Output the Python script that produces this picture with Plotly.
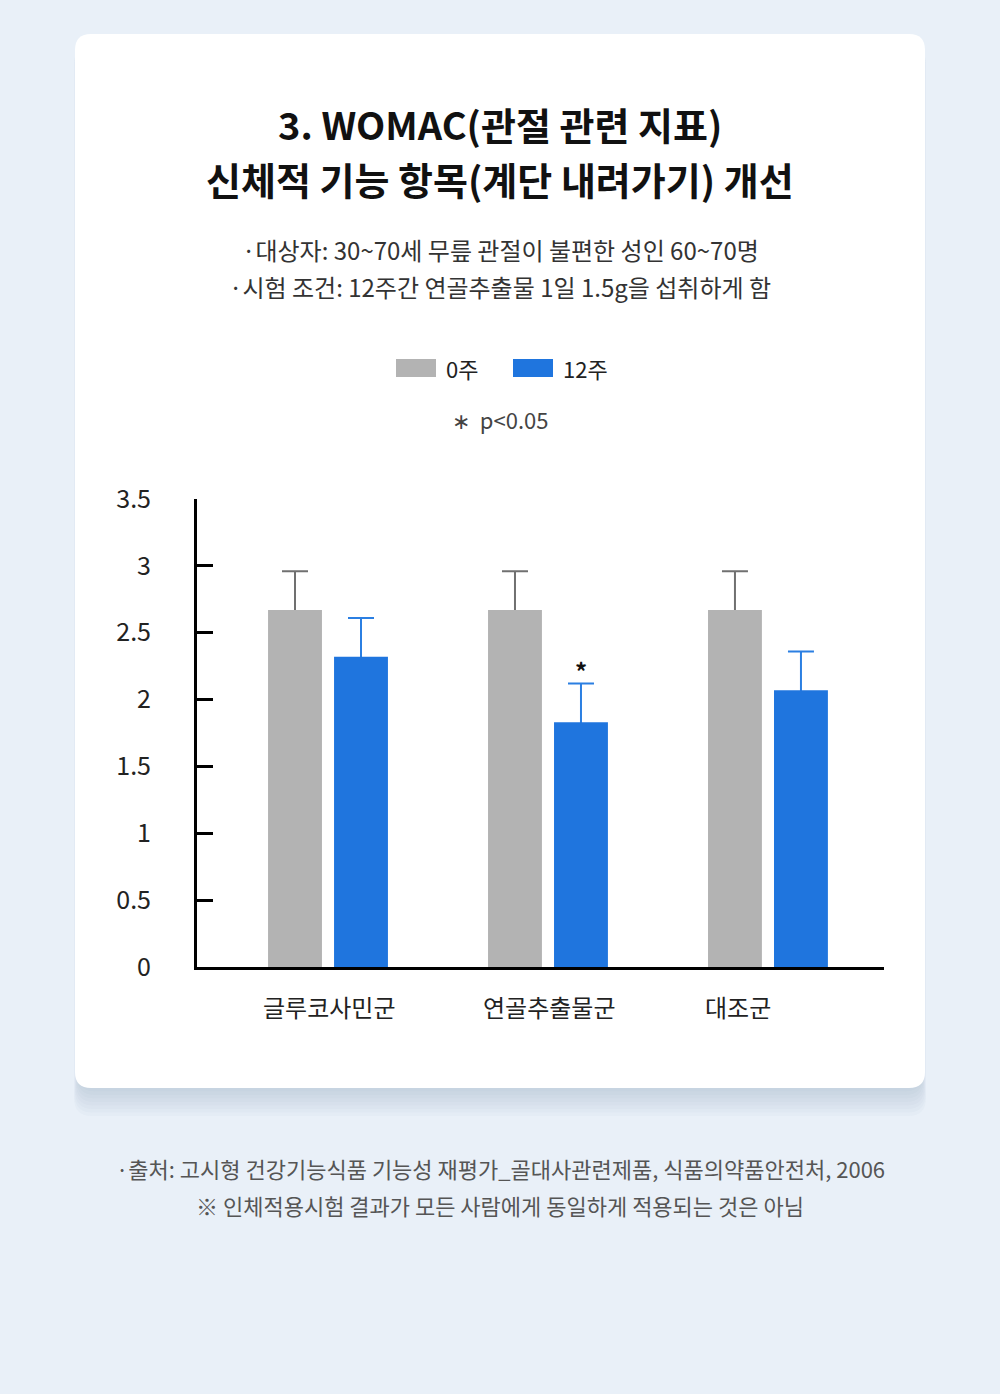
import plotly.graph_objects as go

# data ---------------------------------------------------------------
categories = ["글루코사민군", "연골추출물군", "대조군"]
series_names = ["0주", "12주"]
week0 = [2.67, 2.67, 2.67]
week0_err = [0.29, 0.29, 0.29]
week12 = [2.32, 1.83, 2.07]
week12_err = [0.29, 0.29, 0.29]
significant = [False, True, False]
y_ticks = [0, 0.5, 1, 1.5, 2, 2.5, 3, 3.5]
y_ticktext = ["0", "0.5", "1", "1.5", "2", "2.5", "3", "3.5"]

title_lines = ["3. WOMAC(관절 관련 지표)", "신체적 기능 항목(계단 내려가기) 개선"]
sub_lines = ["·대상자: 30~70세 무릎 관절이 불편한 성인 60~70명",
             "·시험 조건: 12주간 연골추출물 1일 1.5g을 섭취하게 함"]
foot_lines = ["·출처: 고시형 건강기능식품 기능성 재평가_골대사관련제품, 식품의약품안전처, 2006",
              "※ 인체적용시험 결과가 모든 사람에게 동일하게 적용되는 것은 아님"]

# style --------------------------------------------------------------
W, H = 1000, 1394
FONT = "Noto Sans CJK KR"
GRAY = "#b3b3b3"
BLUE = "#1f75de"
BG = "#e9f0f8"

def px(x):
    return x / W

def py(y):
    return 1 - y / H

def rrect(x0, y0, x1, y1, r):
    # rounded rectangle path in paper coords (pixel input)
    pts = [
        f"M {px(x0 + r)},{py(y0)}",
        f"L {px(x1 - r)},{py(y0)}",
        f"Q {px(x1)},{py(y0)} {px(x1)},{py(y0 + r)}",
        f"L {px(x1)},{py(y1 - r)}",
        f"Q {px(x1)},{py(y1)} {px(x1 - r)},{py(y1)}",
        f"L {px(x0 + r)},{py(y1)}",
        f"Q {px(x0)},{py(y1)} {px(x0)},{py(y1 - r)}",
        f"L {px(x0)},{py(y0 + r)}",
        f"Q {px(x0)},{py(y0)} {px(x0 + r)},{py(y0)}",
        "Z",
    ]
    return " ".join(pts)

xs = list(range(len(categories)))
bar_w = 0.245
off0, off12 = -0.275, 0.025

fig = go.Figure()

# error bars first (invisible bars), real bars drawn over them hide the lower half
for vals, errs, off, ecol in [(week0, week0_err, off0, "#707070"),
                              (week12, week12_err, off12, "#2b7fe2")]:
    fig.add_trace(go.Bar(
        x=xs, y=vals, width=bar_w, offset=off,
        marker=dict(color="rgba(0,0,0,0)", line=dict(width=0)),
        error_y=dict(type="data", array=errs, color=ecol, thickness=2, width=13),
        showlegend=False, hoverinfo="skip",
    ))

fig.add_trace(go.Bar(
    x=xs, y=week0, name=series_names[0], width=bar_w, offset=off0,
    marker=dict(color=GRAY, line=dict(width=0)), showlegend=False,
))
fig.add_trace(go.Bar(
    x=xs, y=week12, name=series_names[1], width=bar_w, offset=off12,
    marker=dict(color=BLUE, line=dict(width=0)), showlegend=False,
))

shapes = []
# card shadow
for k in range(1, 9):
    shapes.append(dict(type="path", xref="paper", yref="paper", layer="below",
                       path=rrect(75 + 3 - k * 0.5, 34 + k * 1.5, 925 - 3 + k * 0.5, 1088 + k * 3.5, 18),
                       fillcolor="rgba(120,145,180,0.035)", line=dict(width=0)))
# card
shapes.append(dict(type="path", xref="paper", yref="paper", layer="below",
                   path=rrect(75, 34, 925, 1088, 16),
                   fillcolor="white", line=dict(width=0)))

# legend swatches
legend_items = [(396, GRAY, series_names[0]), (513, BLUE, series_names[1])]
annotations = []
for lx, col, name in legend_items:
    shapes.append(dict(type="rect", xref="paper", yref="paper",
                       x0=px(lx), x1=px(lx + 40), y0=py(377), y1=py(359),
                       fillcolor=col, line=dict(width=0)))
    annotations.append(dict(x=px(lx + 48), y=py(368), xref="paper", yref="paper",
                            text=name, showarrow=False, xanchor="left", yanchor="middle",
                            font=dict(family=FONT, size=22, color="#222")))

def txt(y, s, size, color, bold=False):
    annotations.append(dict(x=0.5, y=py(y), xref="paper", yref="paper",
                            text=f"<b>{s}</b>" if bold else s, showarrow=False,
                            xanchor="center", yanchor="middle",
                            font=dict(family=FONT, size=size, color=color)))

txt(123, title_lines[0], 38, "#111", bold=True)
txt(178, title_lines[1], 38, "#111", bold=True)
txt(250, sub_lines[0], 24, "#333")
txt(287, sub_lines[1], 24, "#333")
txt(419, "∗  p&lt;0.05", 22, "#444")
txt(1168, foot_lines[0], 22, "#555")
txt(1205, foot_lines[1], 22, "#555")

# category labels
label_shift = [0, 0, -31]
for i, c in enumerate(categories):
    annotations.append(dict(x=xs[i], y=0, xref="x", yref="y", text=c, showarrow=False,
                            xanchor="center", yanchor="middle", yshift=-39, xshift=label_shift[i],
                            font=dict(family=FONT, size=24, color="#222")))

# significance marks
for i, s in enumerate(significant):
    if s:
        annotations.append(dict(x=xs[i] + off12 + bar_w / 2, y=week12[i] + week12_err[i],
                                xref="x", yref="y", text="<b>*</b>", showarrow=False,
                                xanchor="center", yanchor="bottom", yshift=-6,
                                font=dict(family=FONT, size=24, color="#111")))

fig.update_layout(
    width=W, height=H,
    margin=dict(l=0, r=0, t=0, b=0, autoexpand=False),
    paper_bgcolor=BG,
    plot_bgcolor="rgba(0,0,0,0)",
    shapes=shapes,
    annotations=annotations,
    showlegend=False,
    barmode="overlay",
    font=dict(family=FONT),
    xaxis=dict(domain=[px(197), px(884)], range=[-0.598, 2.525],
               showline=True, linecolor="black", linewidth=3,
               showgrid=False, zeroline=False, showticklabels=False, ticks="",
               automargin=False, fixedrange=True),
    yaxis=dict(domain=[py(967), py(499)], range=[0, 3.5],
               tickvals=y_ticks, ticktext=y_ticktext,
               showline=True, linecolor="black", linewidth=3,
               ticks="inside", ticklen=16, tickwidth=3, tickcolor="black",
               ticklabelstandoff=38,
               tickfont=dict(family=FONT, size=25, color="#222"),
               showgrid=False, zeroline=False, automargin=False, fixedrange=True),
)

fig.write_html("out.html",
               config={"displayModeBar": False},
               post_script="document.body.style.margin='0';"
                           "document.body.style.background='" + BG + "';")
